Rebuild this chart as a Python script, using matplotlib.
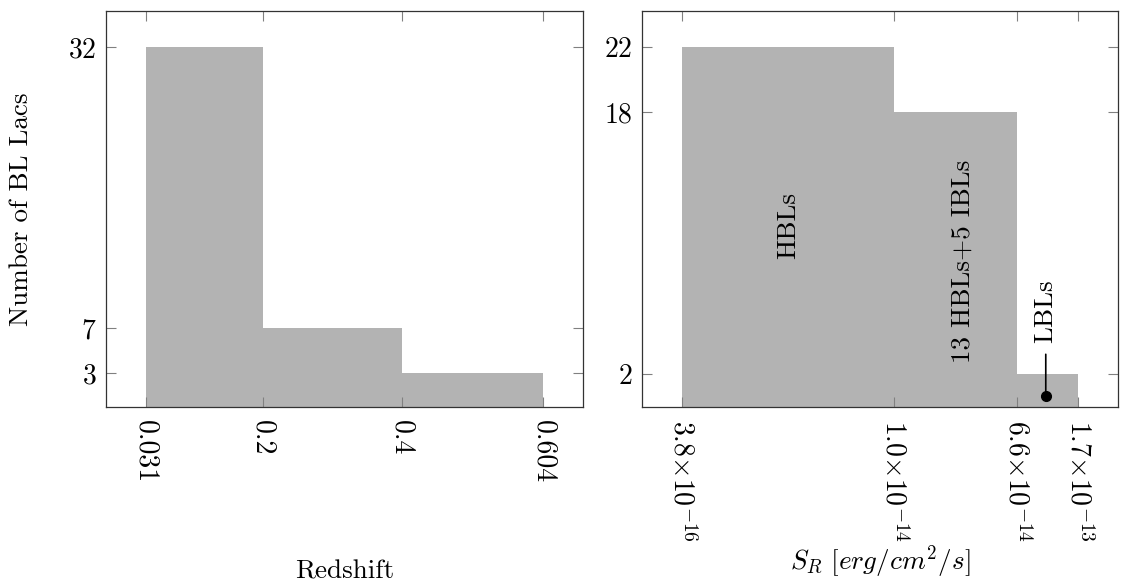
import numpy as np
import matplotlib
matplotlib.use("Agg")
import matplotlib.pyplot as plt

# ── Data ──────────────────────────────────────────────────────────────
z_edges = [0.031, 0.2, 0.4, 0.604]
z_counts = [32, 7, 3]
z_ticklabels = ["0.031", "0.2", "0.4", "0.604"]
z_yticks = [3, 7, 32]

s_edges = [3.8e-16, 1.0e-14, 6.6e-14, 1.7e-13]
s_counts = [22, 18, 2]
s_ticklabels = [r"$3.8{\times}10^{-16}$", r"$1.0{\times}10^{-14}$",
                r"$6.6{\times}10^{-14}$", r"$1.7{\times}10^{-13}$"]
s_yticks = [2, 18, 22]

BAR_COLOR = "#b3b3b3"
TICK_COLOR = "#808080"
FS = 19.5
TICK_FS = 20

plt.rcParams["font.family"] = "serif"
plt.rcParams["font.serif"] = ["cmr10"]
plt.rcParams["mathtext.fontset"] = "cm"
plt.rcParams["axes.unicode_minus"] = False
plt.rcParams["axes.formatter.use_mathtext"] = True


def style_axis(ax):
    ax.tick_params(which="both", direction="in", length=7, width=0.8,
                   color=TICK_COLOR, top=True, right=True, labelsize=TICK_FS)
    ax.tick_params(axis="y", pad=7)
    ax.tick_params(axis="x", pad=9)
    for spine in ax.spines.values():
        spine.set_color("#333333")
        spine.set_linewidth(0.9)


fig = plt.figure(figsize=(11.21, 5.83), dpi=100)
ax1 = fig.add_axes([106 / 1121, 1 - 407 / 583, 477 / 1121, 396 / 583])
ax2 = fig.add_axes([642 / 1121, 1 - 407 / 583, 476 / 1121, 396 / 583])

# ── Left: redshift histogram ─────────────────────────────────────────
ax1.stairs(z_counts, z_edges, fill=True, color=BAR_COLOR, lw=0, zorder=1)
span = z_edges[-1] - z_edges[0]
ax1.set_xlim(z_edges[0] - 0.1 * span, z_edges[-1] + 0.1 * span)
ax1.set_ylim(0, max(z_counts) * 1.1)
ax1.set_xticks(z_edges)
ax1.set_xticklabels(z_ticklabels, rotation=-90, va="top", ha="center")
ax1.set_yticks(z_yticks)
ax1.minorticks_off()
style_axis(ax1)
ax1.set_ylabel("Number of BL Lacs", fontsize=FS)
ax1.yaxis.set_label_coords(-0.153, 0.5)
ax1.set_xlabel("Redshift", fontsize=FS)
ax1.xaxis.set_label_coords(0.5, -0.385)

# ── Right: flux histogram (log x) ────────────────────────────────────
ax2.stairs(s_counts, s_edges, fill=True, color=BAR_COLOR, lw=0, zorder=1)
ax2.set_xscale("log")
lo, hi = np.log10(s_edges[0]), np.log10(s_edges[-1])
pad = 0.1 * (hi - lo)
ax2.set_xlim(10 ** (lo - pad), 10 ** (hi + pad))
ax2.set_ylim(0, max(s_counts) * 1.1)
ax2.set_xticks(s_edges)
ax2.set_xticklabels(s_ticklabels, rotation=-90, va="top", ha="center")
ax2.minorticks_off()
ax2.set_yticks(s_yticks)
style_axis(ax2)
ax2.set_xlabel(r"$S_R\ [erg/cm^2/s]$", fontsize=FS)
ax2.xaxis.set_label_coords(0.5, -0.345)

# class labels
ax2.text(1.95e-15, 11.1, "HBLs", rotation=90, ha="center", va="center", fontsize=FS)
ax2.text(2.85e-14, 8.9, "13 HBLs+5 IBLs", rotation=90, ha="center", va="center",
         fontsize=FS)
ax2.annotate("LBLs", xy=(1.03e-13, 0.67), xytext=(1.03e-13, 3.9),
             rotation=90, ha="center", va="bottom", fontsize=FS,
             arrowprops=dict(arrowstyle="-", color="black", lw=1.2,
                             shrinkA=6, shrinkB=0))
ax2.plot(1.03e-13, 0.67, "o", color="black", markersize=7, zorder=5)

fig.savefig("out.png", dpi=100)
